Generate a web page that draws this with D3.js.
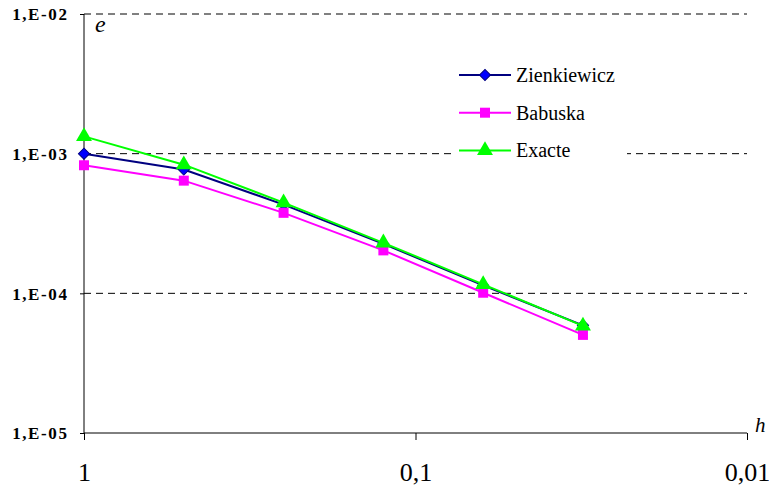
<!DOCTYPE html>
<html><head><meta charset="utf-8">
<script src="https://cdn.jsdelivr.net/npm/d3@7"></script>
<style>body{margin:0;background:#fff}svg{display:block}</style>
</head><body>
<script>
const hValues = [1, 0.5, 0.25, 0.125, 0.0625, 0.03125];
const zienkiewicz = [1.0e-3, 7.7e-4, 4.32e-4, 2.26e-4, 1.14e-4, 5.9e-5];
const babuska = [8.26e-4, 6.41e-4, 3.77e-4, 2.03e-4, 1.01e-4, 5.04e-5];
const exacte = [1.33e-3, 8.34e-4, 4.46e-4, 2.30e-4, 1.16e-4, 5.85e-5];
const yTicks = [1e-5, 1e-4, 1e-3, 1e-2];
const yTickLabels = ["1,E-05", "1,E-04", "1,E-03", "1,E-02"];
const xTicks = [1, 0.1, 0.01];
const xTickLabels = ["1", "0,1", "0,01"];
const seriesNames = ["Zienkiewicz", "Babuska", "Exacte"];

const FONT = "Liberation Serif";
const W = 769, H = 490;
const svg = d3.select("body").append("svg").attr("width", W).attr("height", H);
const x = d3.scaleLog().domain([1, 0.01]).range([84, 747]);
const y = d3.scaleLog().domain([1e-5, 1e-2]).range([433, 14]);

// gridlines
svg.append("g").selectAll("line").data(yTicks.slice(1)).join("line")
  .attr("x1", 84).attr("x2", 747)
  .attr("y1", d => y(d)).attr("y2", d => y(d))
  .attr("stroke", "#000").attr("stroke-width", 1).attr("stroke-dasharray", "7,5");

// axes
const yAxis = d3.axisLeft(y).tickValues(yTicks).tickSize(4).tickFormat((d, i) => yTickLabels[i]);
const gy = svg.append("g").attr("transform", "translate(84,0)").call(yAxis);
gy.attr("font-family", FONT);
gy.select(".domain").attr("stroke", "#000").attr("d", "M0,14V433");
gy.selectAll("text").attr("font-family", FONT).attr("font-weight", "bold")
  .attr("font-size", 17).attr("letter-spacing", 1.6).attr("fill", "#000")
  .attr("x", -15.5).attr("dy", "0.35em");

const xAxis = d3.axisBottom(x).tickValues(xTicks).tickSize(7).tickFormat((d, i) => xTickLabels[i]);
const gx = svg.append("g").attr("transform", "translate(0,433)").call(xAxis);
gx.attr("font-family", FONT);
gx.select(".domain").attr("stroke", "#000").attr("d", "M84,0H747");
gx.selectAll("text").attr("font-family", FONT).attr("font-size", 26)
  .attr("fill", "#000").attr("y", 48).attr("dy", 0);

svg.append("text").attr("x", 95).attr("y", 32).attr("font-family", FONT)
  .attr("font-style", "italic").attr("font-size", 24).text("e");
svg.append("text").attr("x", 755).attr("y", 432).attr("font-family", FONT)
  .attr("font-style", "italic").attr("font-size", 21).text("h");

const series = [
  {name: seriesNames[0], vals: zienkiewicz, line: "#000080", fill: "#0000ff", shape: d3.symbolSquare, size: 62, rot: 45},
  {name: seriesNames[1], vals: babuska, line: "#ff00ff", fill: "#ff00ff", shape: d3.symbolSquare, size: 100, rot: 0},
  {name: seriesNames[2], vals: exacte, line: "#00ff00", fill: "#00ff00", shape: d3.symbolTriangle, size: 110, rot: 0}
];

const line = d3.line().x(d => x(d[0])).y(d => y(d[1]));
series.forEach(s => {
  const pts = hValues.map((h, i) => [h, s.vals[i]]);
  svg.append("path").attr("d", line(pts)).attr("fill", "none").attr("stroke", s.line).attr("stroke-width", 2);
  svg.append("g").selectAll("path").data(pts).join("path")
    .attr("transform", d => `translate(${x(d[0])},${y(d[1])}) rotate(${s.rot})`)
    .attr("d", d3.symbol().type(s.shape).size(s.size))
    .attr("fill", s.fill).attr("stroke", s.line).attr("stroke-width", s.rot ? 1 : 0);
});

// legend
const lg = svg.append("g");
lg.append("rect").attr("x", 453).attr("y", 58).attr("width", 174).attr("height", 110).attr("fill", "#fff");
series.forEach((s, i) => {
  const ly = 75 + i * 37.7;
  lg.append("line").attr("x1", 459).attr("x2", 511).attr("y1", ly).attr("y2", ly)
    .attr("stroke", s.line).attr("stroke-width", 2);
  lg.append("path").attr("transform", `translate(485,${ly}) rotate(${s.rot})`)
    .attr("d", d3.symbol().type(s.shape).size(s.size))
    .attr("fill", s.fill).attr("stroke", s.line).attr("stroke-width", s.rot ? 1 : 0);
  lg.append("text").attr("x", 516).attr("y", ly).attr("dy", "0.35em")
    .attr("font-family", FONT).attr("font-size", 20).text(s.name);
});
</script>
</body></html>
